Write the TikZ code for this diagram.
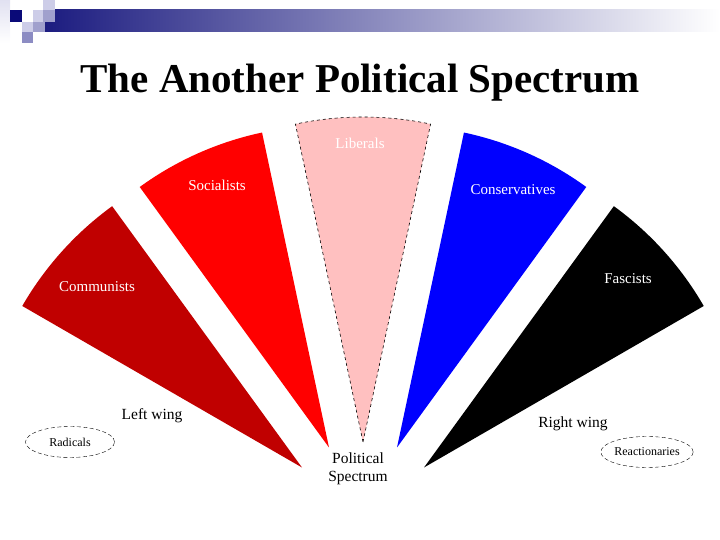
\documentclass[tikz,border=0pt]{standalone}
\usepackage{fontspec}
\setmainfont{Liberation Serif}
\usetikzlibrary{shapes.geometric}
\definecolor{navy}{RGB}{28,28,128}
\definecolor{darknavy}{RGB}{10,10,120}
\definecolor{lavA}{RGB}{205,205,232}
\definecolor{lavB}{RGB}{160,160,205}
\definecolor{lavC}{RGB}{140,140,195}
\definecolor{commred}{RGB}{192,0,0}
\definecolor{socred}{RGB}{255,0,0}
\definecolor{libpink}{RGB}{255,192,192}
\definecolor{consblue}{RGB}{0,0,255}
\tikzset{
  wedgelabel/.style={text=white, font=\fontsize{15bp}{17bp}\selectfont, inner sep=0pt},
  winglabel/.style={text=black, font=\fontsize{15.5bp}{18bp}\selectfont, inner sep=0pt},
  groupbox/.style={ellipse, draw, dash pattern=on 4bp off 2.5bp, minimum width=89bp, minimum height=31bp, inner sep=0pt, font=\fontsize{12bp}{14bp}\selectfont},
}
\begin{document}
\begin{tikzpicture}[x=1bp,y=1bp]
\useasboundingbox (0,0) rectangle (720,540);
% header decoration
\shade[left color=navy, right color=white] (45,508) rectangle (720,530);
\shade[top color=lavA!60, bottom color=white] (0,497) rectangle (10,540);
\fill[lavA] (43,530) rectangle (55,540);
\fill[lavA] (33,518) rectangle (43,530);
\fill[lavB] (43,518) rectangle (55,530);
\fill[darknavy] (10,518) rectangle (22,530);
\fill[lavA] (22,508) rectangle (33,518);
\fill[lavB] (33,508) rectangle (45,518);
\fill[lavC] (22,497) rectangle (33,508);
% title
\node[font=\fontsize{41bp}{45bp}\selectfont\bfseries, anchor=base, inner sep=0pt] (title) at (360,447) {The Another Political Spectrum};
% wedges
\fill[commred] (302,72.5) -- ++(126:323) arc[start angle=126, end angle=150, radius=323] -- cycle;
\fill[socred] (329,92.5) -- ++(102:322) arc[start angle=102, end angle=126, radius=322] -- cycle;
\draw[fill=libpink, dashed, line width=0.6bp] (363,98) -- ++(78:325) arc[start angle=78, end angle=102, radius=325] -- cycle;
\fill[consblue] (397,92.5) -- ++(54:322) arc[start angle=54, end angle=78, radius=322] -- cycle;
\fill[black] (424,72.5) -- ++(30:323) arc[start angle=30, end angle=54, radius=323] -- cycle;
% wedge labels
\node[wedgelabel] (lib) at (360,397) {Liberals};
\node[wedgelabel] (soc) at (217,355) {Socialists};
\node[wedgelabel] (cons) at (513,350) {Conservatives};
\node[wedgelabel] (comm) at (97,253) {Communists};
\node[wedgelabel] (fasc) at (628,261) {Fascists};
% wing labels
\node[winglabel] (left) at (152,124) {Left wing};
\node[winglabel] (right) at (573,116) {Right wing};
\node[winglabel, align=center] (ps) at (358,71) {Political\\Spectrum};
% groups
\node[groupbox] (rad) at (70,98) {Radicals};
\node[groupbox] (react) at (647,88) {Reactionaries};
\end{tikzpicture}
\end{document}
